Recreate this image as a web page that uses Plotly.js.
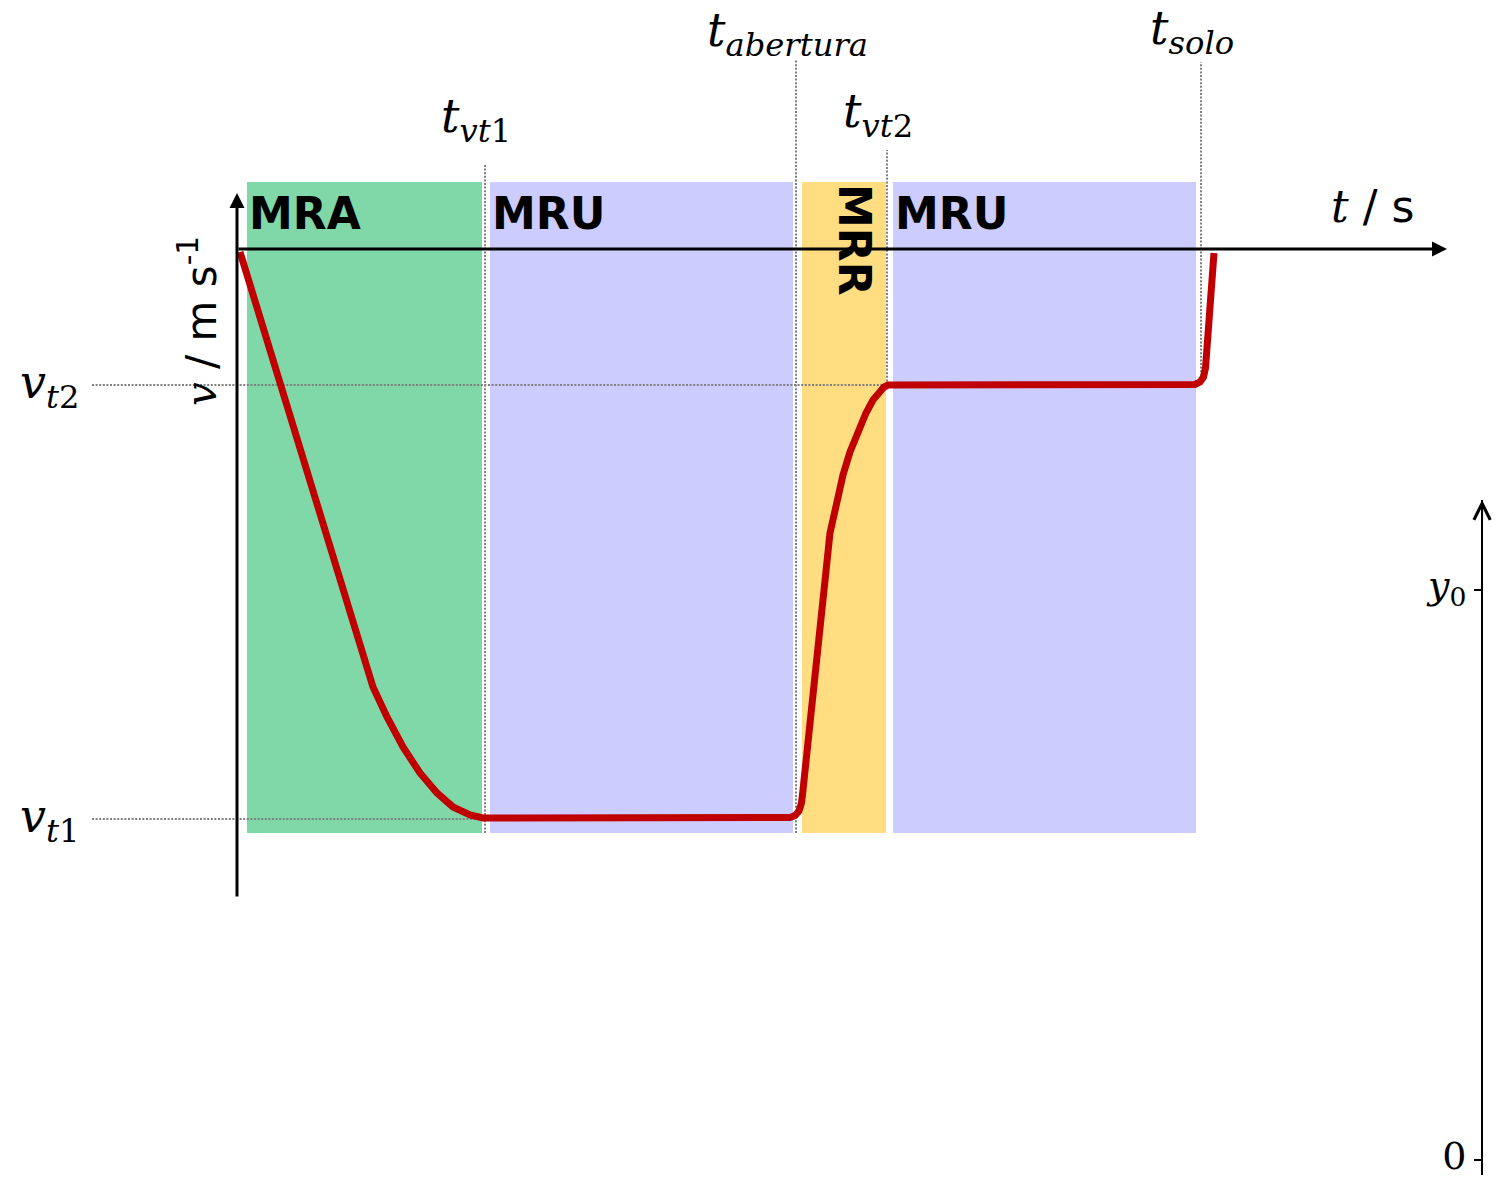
<!DOCTYPE html>
<html>
<head>
<meta charset="utf-8">
<script src="https://cdn.plot.ly/plotly-3.0.1.min.js"></script>
<style>html,body{margin:0;padding:0;background:#fff;}#chart{width:1496px;height:1178px;}</style>
</head>
<body>
<div id="chart"></div>
<script>
// ---- data (schematic units: t in s, v in m/s, downward = negative) ----
const tCurve = [0.3, 6.3, 12.3, 13.6, 15.0, 16.6, 18.3, 20.0, 21.6, 23.3, 24.6,
                54.6, 55.3, 55.8, 56.2, 56.45, 56.6,
                59.3, 59.9, 60.6, 61.3, 62.1, 62.9, 63.6, 64.3, 64.7, 65.1,
                95.1, 95.8, 96.3, 96.65, 96.85, 97.7];
const vCurve = [-0.3, -20.1, -39.9, -43.8, -46.8, -49.8, -52.4, -54.4, -55.8, -56.6, -56.9,
                -56.9, -56.85, -56.65, -56.2, -55.4, -54.1,
                -28.4, -25.4, -22.6, -20.3, -18.1, -16.4, -15.1, -14.2, -13.8, -13.6,
                -13.6, -13.55, -13.3, -12.8, -11.9, -0.4];

const phaseNames = ['MRA', 'MRU', 'MRR', 'MRU'];
const phaseStart = [1.0, 25.3, 56.5, 65.6];
const phaseEnd   = [24.5, 55.6, 64.9, 95.9];

const markerLabels = ['<i>t</i><sub><i>vt</i>1</sub>', '<i>t</i><sub><i>abertura</i></sub>', '<i>t</i><sub><i>vt</i>2</sub>', '<i>t</i><sub><i>solo</i></sub>'];
const markerTimes  = [24.8, 55.9, 65.0, 96.4];

const levelLabels = ['<i>v</i><sub><i>t</i>1</sub>', '<i>v</i><sub><i>t</i>2</sub>'];
const levelValues = [-57.0, -13.6];

const heightTickVals = [0, 1];
const heightTickText = ['0', '<i>y</i><sub>0</sub>'];

// ---- styles ----
const phaseColors = ['rgb(128,216,168)', 'rgb(204,204,255)', 'rgb(255,221,128)', 'rgb(204,204,255)'];
const SERIF = 'DejaVu Serif';
const SANS = 'DejaVu Sans';
const dotColor = '#7f7f7f';
const dotDash = '2px,1.6px';

const shapes = [];
const annotations = [];
const bandTop = 6.7, bandBottom = -58.4;
phaseNames.forEach((n, i) => {
  shapes.push({type: 'rect', xref: 'x', yref: 'y', x0: phaseStart[i], x1: phaseEnd[i], y0: bandBottom, y1: bandTop,
    fillcolor: phaseColors[i], line: {width: 0}, layer: 'below'});
});
// vertical marker lines
const markerTop = [8.4, 18.9, 9.9, 18.7];
const markerBottom = [bandBottom, bandBottom, levelValues[1], levelValues[1] + 0.2];
markerTimes.forEach((t, i) => {
  shapes.push({type: 'line', xref: 'x', yref: 'y', x0: t, x1: t, y0: markerBottom[i], y1: markerTop[i],
    line: {color: dotColor, width: 2, dash: dotDash}, layer: 'below'});
});
// horizontal level lines
const levelLeft = -14.5;
const levelRight = [phaseEnd[0], markerTimes[2] - 0.2];
levelValues.forEach((v, i) => {
  shapes.push({type: 'line', xref: 'x', yref: 'y', x0: levelLeft, x1: levelRight[i], y0: v, y1: v,
    line: {color: dotColor, width: 2, dash: dotDash}, layer: 'below'});
});

// phase labels
const phaseLabelX = [phaseStart[0], phaseStart[1], (phaseStart[2] + phaseEnd[2]) / 2, phaseStart[3]];
phaseNames.forEach((n, i) => {
  const rot = n === 'MRR';
  annotations.push({xref: 'x', yref: 'y', x: phaseLabelX[i], y: rot ? 0.9 : 3.6, text: '<b>' + n + '</b>',
    showarrow: false, xanchor: rot ? 'center' : 'left', yanchor: 'middle', textangle: rot ? 90 : 0,
    xshift: rot ? 11 : 0, font: {family: SANS, size: 44, color: '#000'}});
});
// marker labels
const markerLabelY = [13.0, 21.6, 13.5, 21.8];
markerTimes.forEach((t, i) => {
  annotations.push({xref: 'x', yref: 'y', x: t, y: markerLabelY[i], text: markerLabels[i], showarrow: false,
    xanchor: 'center', yanchor: 'middle', xshift: -9, font: {family: SERIF, size: 46, color: '#000'}});
});
// level labels
levelValues.forEach((v, i) => {
  annotations.push({xref: 'x', yref: 'y', x: -15.6, y: v, text: levelLabels[i], showarrow: false,
    xanchor: 'right', yanchor: 'middle', yshift: 0, font: {family: SERIF, size: 46, color: '#000'}});
});
// axis arrows
annotations.push({xref: 'x', yref: 'y', axref: 'x', ayref: 'y', x: 121.0, y: 0, ax: 0, ay: 0, text: '',
  showarrow: true, arrowhead: 2, arrowsize: 1, arrowwidth: 3, arrowcolor: '#000'});
annotations.push({xref: 'x', yref: 'y', axref: 'x', ayref: 'y', x: 0, y: 5.6, ax: 0, ay: -64.9, text: '',
  showarrow: true, arrowhead: 2, arrowsize: 1, arrowwidth: 3, arrowcolor: '#000'});
// axis titles
annotations.push({xref: 'x', yref: 'y', x: 117.9, y: 4.3, xanchor: 'right', yanchor: 'middle', showarrow: false,
  text: '<span style="font-family:DejaVu Serif"><i>t</i></span> / s', font: {family: SANS, size: 44, color: '#000'}});
annotations.push({xref: 'x', yref: 'y', x: -3.9, y: -7.2, xanchor: 'center', yanchor: 'middle', showarrow: false,
  textangle: -90, text: '<span style="font-family:DejaVu Serif"><i>v</i></span> / m s<sup>-1</sup>',
  font: {family: SANS, size: 42, color: '#000'}});
// right height axis arrow
annotations.push({xref: 'paper', yref: 'paper', x: 0.9907, y: 0.5756, ax: 0, ay: 22, text: '',
  showarrow: true, arrowhead: 5, arrowsize: 1.6, arrowwidth: 2, arrowcolor: '#000'});

const traces = [
  {x: tCurve, y: vCurve, type: 'scatter', mode: 'lines',
   line: {color: 'rgb(192,0,0)', width: 7, shape: 'linear'},
   hoverinfo: 'skip', showlegend: false},
  {x: [0], y: [0], xaxis: 'x', yaxis: 'y2', type: 'scatter', mode: 'markers', marker: {opacity: 0},
   hoverinfo: 'skip', showlegend: false}
];

const layout = {
  width: 1496, height: 1178,
  margin: {l: 0, r: 0, t: 0, b: 0},
  paper_bgcolor: '#fff', plot_bgcolor: 'rgba(0,0,0,0)',
  showlegend: false,
  xaxis: {range: [-23.7, 125.9], visible: false, fixedrange: true},
  yaxis: {range: [-92.9, 24.9], visible: false, fixedrange: true, domain: [0, 1]},
  yaxis2: {domain: [0.0025, 0.5756], anchor: 'free', position: 0.9907, side: 'left',
    range: [-0.026, 1.158], tickvals: heightTickVals, ticktext: heightTickText,
    showline: true, linewidth: 2, linecolor: '#000', ticks: 'outside', ticklen: 7, tickwidth: 2, tickcolor: '#000',
    ticklabeloverflow: 'allow', ticklabelstandoff: 0, ticklabelshift: -5,
    showgrid: false, zeroline: false, tickfont: {family: SERIF, size: 38, color: '#000'}, fixedrange: true},
  shapes: shapes,
  annotations: annotations
};

Plotly.newPlot('chart', traces, layout, {staticPlot: true, displayModeBar: false});
</script>
</body>
</html>
